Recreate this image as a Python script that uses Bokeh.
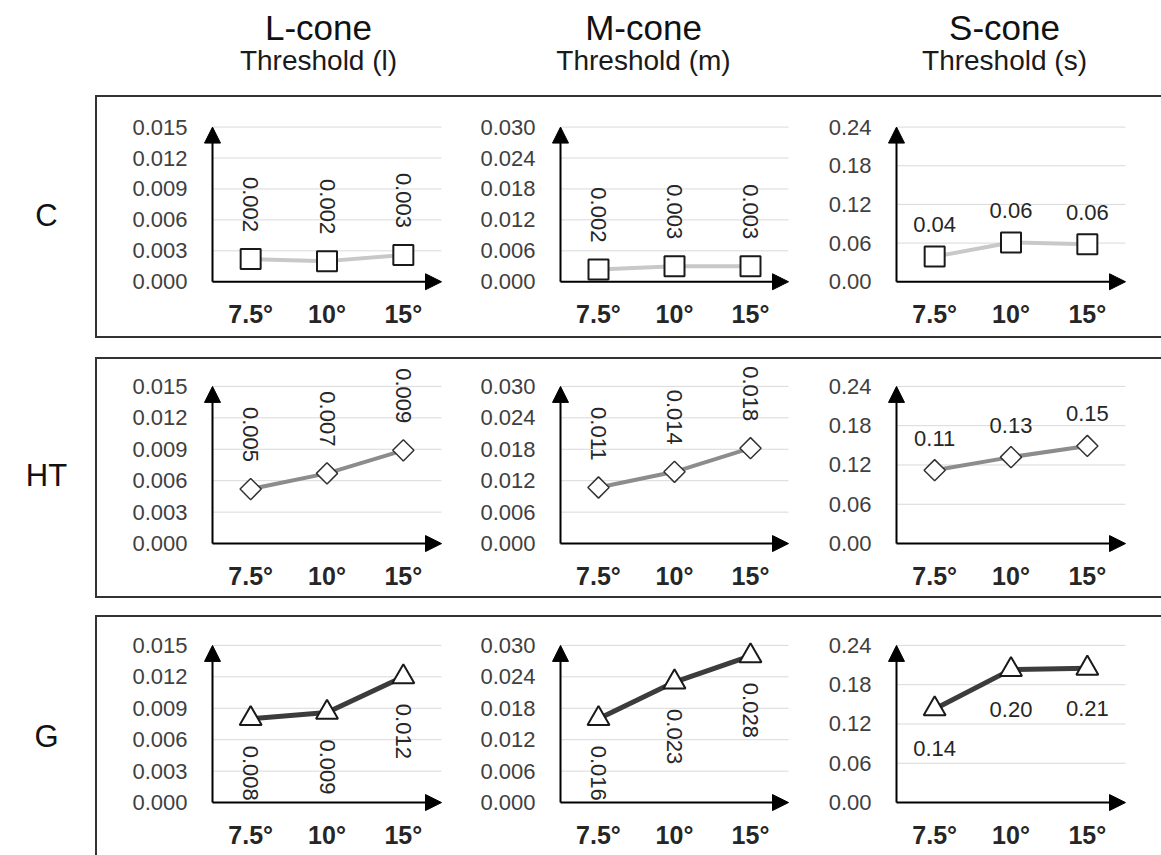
import math
from bokeh.plotting import figure
from bokeh.layouts import row, column
from bokeh.models import (Range1d, FactorRange, FixedTicker, PrintfTickFormatter,
                          Arrow, NormalHead, Label, Spacer)
from bokeh.embed import file_html
from bokeh.resources import INLINE
from bokeh.core.properties import value

FONT = "Liberation Sans"

# ---------------- data ----------------
angles = ["7.5°", "10°", "15°"]
groups = ["C", "HT", "G"]
cones = ["L-cone", "M-cone", "S-cone"]
thresholds = ["Threshold (l)", "Threshold (m)", "Threshold (s)"]

y_max_L = 0.015
y_max_M = 0.030
y_max_S = 0.24
ticks_L = [0.000, 0.003, 0.006, 0.009, 0.012, 0.015]
ticks_M = [0.000, 0.006, 0.012, 0.018, 0.024, 0.030]
ticks_S = [0.00, 0.06, 0.12, 0.18, 0.24]

C_L = [0.0022, 0.0020, 0.0026]
C_M = [0.0024, 0.0030, 0.0030]
C_S = [0.039, 0.061, 0.058]
HT_L = [0.0052, 0.0067, 0.0089]
HT_M = [0.0107, 0.0137, 0.0182]
HT_S = [0.112, 0.132, 0.149]
G_L = [0.0080, 0.0086, 0.0120]
G_M = [0.0160, 0.0230, 0.0280]
G_S = [0.143, 0.203, 0.205]

C_L_labels = ["0.002", "0.002", "0.003"]
C_M_labels = ["0.002", "0.003", "0.003"]
C_S_labels = ["0.04", "0.06", "0.06"]
HT_L_labels = ["0.005", "0.007", "0.009"]
HT_M_labels = ["0.011", "0.014", "0.018"]
HT_S_labels = ["0.11", "0.13", "0.15"]
G_L_labels = ["0.008", "0.009", "0.012"]
G_M_labels = ["0.016", "0.023", "0.028"]
G_S_labels = ["0.14", "0.20", "0.21"]

values = [[C_L, C_M, C_S], [HT_L, HT_M, HT_S], [G_L, G_M, G_S]]
labels = [[C_L_labels, C_M_labels, C_S_labels],
          [HT_L_labels, HT_M_labels, HT_S_labels],
          [G_L_labels, G_M_labels, G_S_labels]]
y_maxes = [y_max_L, y_max_M, y_max_S]
y_ticks = [ticks_L, ticks_M, ticks_S]
tick_formats = ["%.3f", "%.3f", "%.2f"]

# ---------------- layout / style ----------------
FIG_W = [363, 340, 361]
# borders around the visible axis box (axis origin .. arrow tips)
BORDER_LR = [(115, 19), (100, 12), (96, 36)]
ROW_H = [239, 237, 238]
BORDER_TB = [[(26, 55), (30, 51), (30, 51)],
             [(26, 53), (26, 53), (27, 52)],
             [(28, 52), (28, 52), (27, 53)]]
# extra drawing room outside the axis box (so arrow heads / labels are not clipped)
PAD_X = 12
PAD_TOP = 20
PAD_BOTTOM = 12

BOX_LINE = "2px solid #333333"
ROW_STYLES = [
    {"border-top": BOX_LINE, "border-left": BOX_LINE, "border-bottom": BOX_LINE},
    {"border-top": BOX_LINE, "border-left": BOX_LINE, "border-bottom": BOX_LINE},
    {"border-top": BOX_LINE, "border-left": BOX_LINE},
]
SERIES_STYLE = [
    dict(line="#c8c8c8", lw=4, marker="square", size=20, angle=0.0, mlc="#1a1a1a", mlw=2),
    dict(line="#8c8c8c", lw=4, marker="square", size=15, angle=math.pi / 4, mlc="#333333", mlw=1.5),
    dict(line="#3c3c3c", lw=5, marker="triangle", size=22, angle=0.0, mlc="#1a1a1a", mlw=2),
]


def make_panel(ri, ci):
    bl, br = BORDER_LR[ci]
    bt, bb = BORDER_TB[ri][ci]
    core_w = FIG_W[ci] - bl - br
    core_h = ROW_H[ri] - bt - bb
    n = len(angles)
    ymax = y_maxes[ci]
    x_pad = PAD_X / (core_w / n)
    y_lo = -PAD_BOTTOM / core_h * ymax
    y_hi = ymax + PAD_TOP / core_h * ymax

    p = figure(width=FIG_W[ci], height=ROW_H[ri],
               x_range=FactorRange(factors=angles, range_padding=x_pad,
                                   range_padding_units="absolute"),
               y_range=Range1d(y_lo, y_hi),
               output_backend="svg", toolbar_location=None, title=None,
               min_border_left=bl - PAD_X, min_border_right=br - PAD_X,
               min_border_top=bt - PAD_TOP, min_border_bottom=bb - PAD_BOTTOM)
    p.outline_line_color = None
    p.background_fill_color = "white"
    p.border_fill_color = "white"
    p.grid.visible = False

    ya = p.yaxis[0]
    ya.ticker = FixedTicker(ticks=y_ticks[ci])
    ya.formatter = PrintfTickFormatter(format=tick_formats[ci])
    ya.axis_line_color = None
    ya.major_tick_line_color = None
    ya.minor_tick_line_color = None
    ya.major_tick_out = 0
    ya.major_tick_in = 0
    ya.major_label_standoff = 25 - PAD_X
    ya.major_label_text_font = FONT
    ya.major_label_text_font_size = "22px"
    ya.major_label_text_color = "#404040"

    xa = p.xaxis[0]
    xa.axis_line_color = None
    xa.major_tick_line_color = None
    xa.minor_tick_line_color = None
    xa.major_tick_out = 0
    xa.major_tick_in = 0
    xa.major_label_standoff = 18 - PAD_BOTTOM
    xa.major_label_text_font = FONT
    xa.major_label_text_font_style = "bold"
    xa.major_label_text_font_size = "25px"
    xa.major_label_text_color = "#262626"

    # horizontal grid lines from the y axis to the arrow tip
    ticks = y_ticks[ci]
    p.segment(x0=[0] * len(ticks), y0=ticks, x1=[n] * len(ticks), y1=ticks,
              line_color="#d9d9d9", line_width=1)

    # axis arrows
    p.add_layout(Arrow(x_start=0, y_start=0, x_end=n, y_end=0, line_width=2,
                       line_color="black",
                       end=NormalHead(size=16, fill_color="black", line_color="black")))
    p.add_layout(Arrow(x_start=0, y_start=0, x_end=0, y_end=ymax, line_width=2,
                       line_color="black",
                       end=NormalHead(size=16, fill_color="black", line_color="black")))

    st = SERIES_STYLE[ri]
    vals = values[ri][ci]
    p.line(angles, vals, line_color=st["line"], line_width=st["lw"])
    p.scatter(angles, vals, marker=st["marker"], size=st["size"], angle=st["angle"],
              fill_color="white", line_color=st["mlc"], line_width=st["mlw"])

    below = (ri == 2)
    if ci < 2:
        p.text(angles, vals, text=labels[ri][ci], angle=-math.pi / 2,
               text_align="left" if below else "right", text_baseline="middle",
               y_offset=27 if below else -27,
               text_font=value(FONT), text_font_size="22px", text_color="#262626")
    else:
        p.text(angles, vals, text=labels[ri][ci],
               text_align="center", text_baseline="alphabetic",
               y_offset=40 if below else -32,
               text_font=value(FONT), text_font_size="22px", text_color="#262626")
    return p


# header
header = figure(width=1161, height=95, x_range=Range1d(0, 1161), y_range=Range1d(95, 0),
                output_backend="svg", toolbar_location=None, title=None,
                x_axis_type=None, y_axis_type=None, min_border=0)
header.outline_line_color = None
TITLE_X = [318, 643, 1004]
for i in range(3):
    header.add_layout(Label(x=TITLE_X[i], y=27, text=cones[i], text_align="center",
                            text_baseline="alphabetic", text_font=FONT,
                            text_font_size="35px", text_color="#111111"))
    header.add_layout(Label(x=TITLE_X[i], y=60, text=thresholds[i], text_align="center",
                            text_baseline="alphabetic", text_font=FONT,
                            text_font_size="28px", text_color="#1a1a1a"))

# left row labels
left = figure(width=95, height=760, x_range=Range1d(0, 95), y_range=Range1d(760, 0),
              output_backend="svg", toolbar_location=None, title=None,
              x_axis_type=None, y_axis_type=None, min_border=0)
left.outline_line_color = None
ROW_LABEL_Y = [120, 380, 641]
for i in range(3):
    left.add_layout(Label(x=46, y=ROW_LABEL_Y[i], text=groups[i], text_align="center",
                          text_baseline="alphabetic", text_font=FONT,
                          text_font_size="31px", text_color="#111111"))

boxes = []
for ri in range(3):
    figs = [make_panel(ri, ci) for ci in range(3)]
    boxes.append(row(*figs, styles=ROW_STYLES[ri]))

right = column(boxes[0], Spacer(width=1066, height=19), boxes[1],
               Spacer(width=1066, height=17), boxes[2])
layout = column(header, row(left, right))

open("out.html", "w").write(file_html(layout, INLINE))
